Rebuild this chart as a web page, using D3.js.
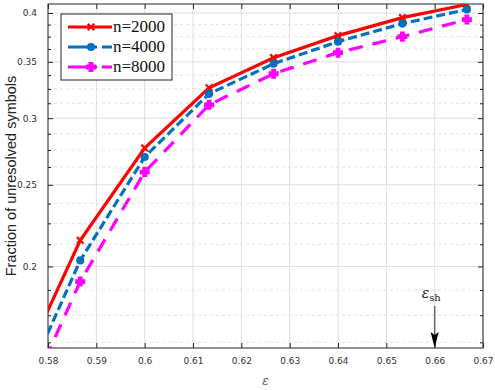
<!DOCTYPE html>
<html>
<head>
<meta charset="utf-8">
<script src="https://cdn.jsdelivr.net/npm/d3@7"></script>
<style>
  body { margin: 0; background: #fff; }
  .tick text { font-family: "DejaVu Sans", sans-serif; font-size: 9px; fill: #333; }
  .legtext { font-family: "Liberation Serif", "DejaVu Serif", serif; font-size: 17px; }
</style>
</head>
<body>
<script>
// chart data
var epsValues = [0.57333, 0.58667, 0.6, 0.61333, 0.62667, 0.64, 0.65333, 0.66667];
var n2000 = [0.1465, 0.2148, 0.2765, 0.3260, 0.3540, 0.3760, 0.3950, 0.4094];
var n4000 = [0.1370, 0.2033, 0.2698, 0.3207, 0.3482, 0.3699, 0.3886, 0.4039];
var n8000 = [0.1297, 0.1919, 0.2589, 0.3112, 0.3388, 0.3589, 0.3750, 0.3929];
var seriesNames = ["n=2000", "n=4000", "n=8000"];
var xTicks = [0.58, 0.59, 0.6, 0.61, 0.62, 0.63, 0.64, 0.65, 0.66, 0.67];
var yTicks = [0.2, 0.25, 0.3, 0.35, 0.4];
var yMinor = [0.1625, 0.175, 0.1875, 0.2125, 0.225, 0.2375, 0.2625, 0.275, 0.2875,
              0.3125, 0.325, 0.3375, 0.3625, 0.375, 0.3875];
var shockEps = 0.66;

var svgWidth = 495;
var svgHeight = 390;
var margin = { top: 4, right: 12, bottom: 42, left: 48 };
var width = svgWidth - margin.left - margin.right;
var height = svgHeight - margin.top - margin.bottom;

var svg = d3.select("body").append("svg")
  .attr("width", svgWidth)
  .attr("height", svgHeight);

var chartGroup = svg.append("g")
  .attr("transform", `translate(${margin.left}, ${margin.top})`);

var x = d3.scaleLinear().domain([0.58, 0.67]).range([0, width]);
var y = d3.scaleLog().domain([0.16, 0.41]).range([height, 0]);

// grid
chartGroup.selectAll(".vgrid").data(xTicks).enter().append("line")
  .attr("x1", d => x(d)).attr("x2", d => x(d))
  .attr("y1", 0).attr("y2", height)
  .attr("stroke", "#dedede").attr("stroke-width", 1);
chartGroup.selectAll(".mgrid").data(yMinor).enter().append("line")
  .attr("x1", 0).attr("x2", width)
  .attr("y1", d => y(d)).attr("y2", d => y(d))
  .attr("stroke", "#e2e2e2").attr("stroke-width", 1).attr("stroke-dasharray", "3,3");
chartGroup.selectAll(".hgrid").data(yTicks).enter().append("line")
  .attr("x1", 0).attr("x2", width)
  .attr("y1", d => y(d)).attr("y2", d => y(d))
  .attr("stroke", "#dedede").attr("stroke-width", 1);

// axes
var fmt = d3.format("");
chartGroup.append("g")
  .attr("transform", `translate(0, ${height})`)
  .call(d3.axisBottom(x).tickValues(xTicks).tickSizeInner(-5).tickSizeOuter(0).tickPadding(10).tickFormat(fmt))
  .call(g => g.select(".domain").remove());
chartGroup.append("g")
  .call(d3.axisTop(x).tickValues(xTicks).tickSizeInner(-5).tickSizeOuter(0).tickFormat(""))
  .call(g => g.select(".domain").remove());
chartGroup.append("g")
  .call(d3.axisLeft(y).tickValues(yTicks).tickSizeInner(-5).tickSizeOuter(0).tickPadding(11).tickFormat(fmt))
  .call(g => g.select(".domain").remove());
chartGroup.append("g")
  .call(d3.axisLeft(y).tickValues(yMinor).tickSizeInner(-3).tickSizeOuter(0).tickFormat(""))
  .call(g => g.select(".domain").remove());
chartGroup.append("g")
  .attr("transform", `translate(${width}, 0)`)
  .call(d3.axisRight(y).tickValues(yTicks).tickSizeInner(-5).tickSizeOuter(0).tickFormat(""))
  .call(g => g.select(".domain").remove());
chartGroup.append("g")
  .attr("transform", `translate(${width}, 0)`)
  .call(d3.axisRight(y).tickValues(yMinor).tickSizeInner(-3).tickSizeOuter(0).tickFormat(""))
  .call(g => g.select(".domain").remove());
chartGroup.selectAll(".tick line").attr("stroke", "#262626");

chartGroup.append("rect")
  .attr("width", width).attr("height", height)
  .attr("fill", "none").attr("stroke", "#262626").attr("stroke-width", 1);

// clip
svg.append("defs").append("clipPath").attr("id", "clip")
  .append("rect").attr("width", width).attr("height", height);

var styles = [
  { color: "#ff0000", dash: null, symbol: d3.symbolX, size: 30, data: n2000 },
  { color: "#0072bd", dash: "9,4", symbol: d3.symbolCircle, size: 28, data: n4000 },
  { color: "#ff00ff", dash: "14,10", symbol: d3.symbolCross, size: 34, data: n8000 }
];

var line = d3.line().x(d => x(d[0])).y(d => y(d[1]));
var plot = chartGroup.append("g").attr("clip-path", "url(#clip)");

styles.forEach(function(s) {
  var pts = epsValues.map((e, i) => [e, s.data[i]]);
  plot.append("path")
    .datum(pts)
    .attr("d", line)
    .attr("fill", "none")
    .attr("stroke", s.color)
    .attr("stroke-width", 3.2)
    .attr("stroke-dasharray", s.dash);
  plot.selectAll(null).data(pts).enter().append("path")
    .attr("transform", d => `translate(${x(d[0])}, ${y(d[1])})`)
    .attr("d", d3.symbol().type(s.symbol).size(s.size))
    .attr("fill", s.color)
    .attr("stroke", s.color)
    .attr("stroke-width", 2.2);
});

// legend
var legend = svg.append("g").attr("transform", "translate(61, 14)");
legend.append("rect")
  .attr("width", 111).attr("height", 66)
  .attr("fill", "#fff").attr("stroke", "#262626").attr("stroke-width", 1);
styles.forEach(function(s, i) {
  var ly = 13 + i * 20;
  legend.append("line")
    .attr("x1", 7).attr("x2", 51).attr("y1", ly).attr("y2", ly)
    .attr("stroke", s.color).attr("stroke-width", 3.2)
    .attr("stroke-dasharray", s.dash ? "29,5,10" : null);
  legend.append("path")
    .attr("transform", `translate(30, ${ly})`)
    .attr("d", d3.symbol().type(s.symbol).size(s.size))
    .attr("fill", s.color).attr("stroke", s.color).attr("stroke-width", 2.2);
  legend.append("text")
    .attr("class", "legtext")
    .attr("x", 52).attr("y", ly + 5)
    .attr("fill", "#111")
    .text(seriesNames[i]);
});

// axis titles
svg.append("text")
  .attr("text-anchor", "middle")
  .attr("transform", `translate(16, ${margin.top + height / 2}) rotate(-90)`)
  .attr("font-family", "Liberation Sans, Arial, sans-serif")
  .attr("font-size", "14.5px")
  .attr("fill", "#222")
  .text("Fraction of unresolved symbols");

svg.append("text")
  .attr("text-anchor", "middle")
  .attr("x", margin.left + width / 2).attr("y", 385)
  .attr("font-family", "DejaVu Serif, serif")
  .attr("font-style", "italic")
  .attr("font-size", "12px")
  .attr("fill", "#555")
  .text("ε");

// shock annotation
var ax = margin.left + x(shockEps);
svg.append("line")
  .attr("x1", ax).attr("x2", ax).attr("y1", 306).attr("y2", 336)
  .attr("stroke", "#666").attr("stroke-width", 1.5);
svg.append("path")
  .attr("d", `M${ax - 4},${332} L${ax},${335} L${ax + 4},${332} L${ax},${348} Z`)
  .attr("fill", "#000");
var lab = svg.append("text")
  .attr("x", ax - 13).attr("y", 298)
  .attr("font-family", "DejaVu Serif, serif")
  .attr("font-size", "14px")
  .attr("fill", "#222");
lab.append("tspan").attr("font-style", "italic").text("ε");
lab.append("tspan").attr("dy", 3).attr("font-size", "10px").text("sh");
</script>
</body>
</html>
